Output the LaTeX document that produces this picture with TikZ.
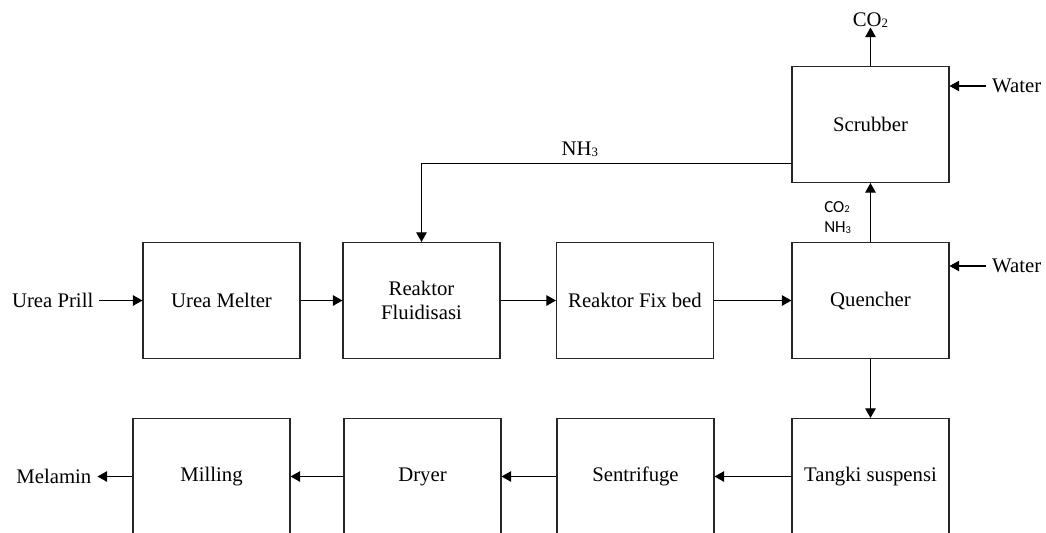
\documentclass[tikz,border=0pt]{standalone}
\usepackage{fontspec}
\setmainfont{Liberation Serif}
\newfontfamily\labelfont{Carlito}
\usepackage{graphicx}
\usepackage{tikz}
\usetikzlibrary{shapes.geometric, arrows.meta, positioning}
\newcommand{\lowsub}[1]{\raisebox{-0.1ex}{\scalebox{0.62}{#1}}}
\tikzstyle{process} = [rectangle, minimum width=3.14cm, minimum height=2.32cm, text centered, align=center, draw=black!85, line width=0.6pt]
\tikzstyle{stream} = [inner sep=0.333em]
\tikzstyle{gas} = [font=\labelfont\fontsize{9.6}{11.5}\selectfont, align=left, inner sep=0pt]
\tikzstyle{arrow} = [line width=0.6pt, -{Triangle[length=5.5pt, width=6pt]}]

\begin{document}
\begin{tikzpicture}[node distance=4cm, font=\fontsize{11.8}{14}\selectfont]
    \useasboundingbox (0,0) rectangle (20.92,-10.64);
    % middle row
    \node (melter) [process] at (4.43,-6.01) {Urea Melter};
    \node (fluid) [process, right of=melter] {Reaktor\\Fluidisasi};
    \node (fixbed) [process, right of=fluid, xshift=0.27cm] {Reaktor Fix bed};
    \node (quencher) [process, right of=fixbed, xshift=0.71cm] {Quencher};
    \node (scrubber) [process, above of=quencher, yshift=-0.48cm] {Scrubber};
    % bottom row
    \node (tangki) [process, below of=quencher, yshift=0.48cm] {Tangki suspensi};
    \node (sentrifuge) [process, left of=tangki, xshift=-0.7cm] {Sentrifuge};
    \node (dryer) [process, left of=sentrifuge, xshift=-0.26cm] {Dryer};
    \node (milling) [process, left of=dryer, xshift=-0.22cm] {Milling};
    % streams in and out
    \node (prill) [stream, left=0.86cm of melter] {Urea Prill};
    \node (melamin) [stream, left=0.7cm of milling] {Melamin};
    \node (water_scr) [stream, right=0.73cm of scrubber, yshift=0.77cm] {Water};
    \node (water_qu) [stream, right=0.73cm of quencher, yshift=0.69cm] {Water};
    \node (co2) [inner sep=0pt, above=0.77cm of scrubber] {CO\lowsub{2}};

    \draw [arrow] (prill) -- (melter);
    \draw [arrow] (melter) -- (fluid);
    \draw [arrow] (fluid) -- (fixbed);
    \draw [arrow] (fixbed) -- (quencher);
    \draw [arrow] (quencher) -- node[gas, pos=0.42, left, xshift=-0.38cm] {CO\lowsub{2}\\NH\lowsub{3}} (scrubber);
    \draw [arrow] (scrubber) -- (co2);
    \draw [arrow] ([yshift=0.4cm]scrubber.south west) -| node[pos=0.286, above] {NH\lowsub{3}} (fluid);
    \draw [arrow] (water_scr) -- (water_scr.west -| scrubber.east);
    \draw [arrow] (water_qu) -- (water_qu.west -| quencher.east);
    \draw [arrow] (quencher) -- (tangki);
    \draw [arrow] (tangki) -- (sentrifuge);
    \draw [arrow] (sentrifuge) -- (dryer);
    \draw [arrow] (dryer) -- (milling);
    \draw [arrow] (milling) -- (melamin);
\end{tikzpicture}
\end{document}
